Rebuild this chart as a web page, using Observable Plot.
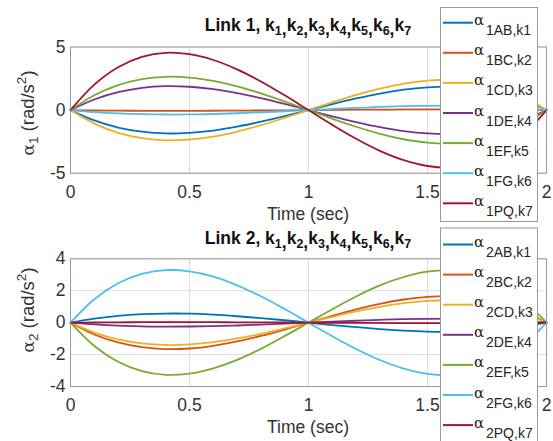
<!DOCTYPE html>
<html>
<head>
<meta charset="utf-8">
<script src="https://cdn.jsdelivr.net/npm/d3@7"></script>
<script src="https://cdn.jsdelivr.net/npm/@observablehq/plot@0.6"></script>
<style>
  html, body { margin: 0; padding: 0; background: white; }
  #wrap { position: relative; width: 553px; height: 441px; overflow: hidden; background: white; }
  #wrap > svg { position: absolute; left: 0; }
</style>
</head>
<body>
<div id="wrap"></div>
<script>
// ---- data ----
const times = [0,0.1,0.2,0.3,0.4,0.5,0.6,0.7,0.8,0.9,1.0,1.1,1.2,1.3,1.4,1.5,1.6,1.7,1.8,1.9,2.0];
const xTicks = [0, 0.5, 1, 1.5, 2];
const yTicks1 = [-5, 0, 5];
const yTicks2 = [-4, -2, 0, 2, 4];
const colors = ["#0072BD","#D95319","#EDB120","#7E2F8E","#77AC30","#4DBEEE","#A2142F"];
const names1 = ["1AB,k1","1BC,k2","1CD,k3","1DE,k4","1EF,k5","1FG,k6","1PQ,k7"];
const names2 = ["2AB,k1","2BC,k2","2CD,k3","2DE,k4","2EF,k5","2FG,k6","2PQ,k7"];

// Link 1 accelerations (rad/s^2)
const l1k1 = [0,-0.82,-1.38,-1.71,-1.85,-1.80,-1.62,-1.31,-0.92,-0.48,0,0.48,0.92,1.31,1.62,1.80,1.85,1.71,1.38,0.82,0];
const l1k2 = [0,-0.03,-0.04,-0.06,-0.06,-0.06,-0.05,-0.04,-0.03,-0.02,0,0.02,0.03,0.04,0.05,0.06,0.06,0.06,0.04,0.03,0];
const l1k3 = [0,-1.07,-1.80,-2.22,-2.40,-2.34,-2.10,-1.70,-1.20,-0.62,0,0.62,1.20,1.70,2.10,2.34,2.40,2.22,1.80,1.07,0];
const l1k4 = [0,0.84,1.42,1.76,1.90,1.85,1.66,1.35,0.95,0.49,0,-0.49,-0.95,-1.35,-1.66,-1.85,-1.90,-1.76,-1.42,-0.84,0];
const l1k5 = [0,1.18,1.98,2.46,2.64,2.58,2.31,1.88,1.32,0.68,0,-0.68,-1.32,-1.88,-2.31,-2.58,-2.64,-2.46,-1.98,-1.18,0];
const l1k6 = [0,-0.16,-0.26,-0.32,-0.35,-0.34,-0.31,-0.25,-0.17,-0.09,0,0.09,0.17,0.25,0.31,0.34,0.35,0.32,0.26,0.16,0];
const l1k7 = [0,2.02,3.40,4.22,4.54,4.43,3.97,3.23,2.27,1.17,0,-1.17,-2.27,-3.23,-3.97,-4.43,-4.54,-4.22,-3.40,-2.02,0];

// Link 2 accelerations (rad/s^2)
const l2k1 = [0,0.25,0.43,0.53,0.57,0.56,0.50,0.40,0.28,0.15,0,-0.15,-0.28,-0.40,-0.50,-0.56,-0.57,-0.53,-0.43,-0.25,0];
const l2k2 = [0,-0.74,-1.24,-1.54,-1.66,-1.62,-1.45,-1.18,-0.83,-0.43,0,0.43,0.83,1.18,1.45,1.62,1.66,1.54,1.24,0.74,0];
const l2k3 = [0,-0.62,-1.05,-1.30,-1.40,-1.36,-1.22,-0.99,-0.70,-0.36,0,0.36,0.70,0.99,1.22,1.36,1.40,1.30,1.05,0.62,0];
const l2k4 = [0,-0.11,-0.19,-0.23,-0.25,-0.24,-0.22,-0.18,-0.12,-0.06,0,0.06,0.12,0.18,0.22,0.24,0.25,0.23,0.19,0.11,0];
const l2k5 = [0,-1.46,-2.45,-3.04,-3.27,-3.19,-2.86,-2.33,-1.64,-0.84,0,0.84,1.64,2.33,2.86,3.19,3.27,3.04,2.45,1.46,0];
const l2k6 = [0,1.47,2.47,3.06,3.29,3.21,2.88,2.34,1.65,0.85,0,-0.85,-1.65,-2.34,-2.88,-3.21,-3.29,-3.06,-2.47,-1.47,0];
const l2k7 = [0,0.01,0.02,0.03,0.03,0.03,0.03,0.02,0.02,0.01,0,-0.01,-0.02,-0.02,-0.03,-0.03,-0.03,-0.03,-0.02,-0.01,0];

const link1 = [l1k1,l1k2,l1k3,l1k4,l1k5,l1k6,l1k7];
const link2 = [l2k1,l2k2,l2k3,l2k4,l2k5,l2k6,l2k7];

const FONT = "'Liberation Sans', Arial, sans-serif";

function makePlot(series, yDomain, yTicks, height, mt, mb) {
  return Plot.plot({
    width: 553, height,
    marginLeft: 70, marginRight: 7, marginTop: mt, marginBottom: mb,
    style: { fontFamily: FONT, fontSize: "17.5px", color: "#333", background: "white" },
    x: { domain: [0, 2] },
    y: { domain: yDomain },
    marks: [
      Plot.gridX(xTicks, { stroke: "#dcdcdc", strokeOpacity: 1 }),
      Plot.gridY(yTicks, { stroke: "#dcdcdc", strokeOpacity: 1 }),
      Plot.axisX({ ticks: xTicks, tickSize: 0, tickPadding: 12, label: null, tickFormat: d => String(d) }),
      Plot.axisY({ ticks: yTicks, tickSize: 0, tickPadding: 5, label: null, tickFormat: d => String(d) }),
      ...series.map((vals, i) => Plot.line(times, {
        x: d => d, y: (d, j) => vals[j], stroke: colors[i], strokeWidth: 1.8, curve: "catmull-rom"
      })),
      Plot.frame({ stroke: "#999", strokeWidth: 1 })
    ]
  });
}

const wrap = document.getElementById("wrap");
const p1 = makePlot(link1, [-5, 5], yTicks1, 220, 46.5, 47.3);
p1.style.top = "0px";
wrap.appendChild(p1);
const p2 = makePlot(link2, [-4, 4], yTicks2, 221, 38.3, 55);
p2.style.top = "220px";
wrap.appendChild(p2);

// ---- overlay: titles, axis labels, legends ----
const ov = d3.select(wrap).append("svg")
  .attr("width", 553).attr("height", 441)
  .style("top", "0px").style("position", "absolute")
  .attr("font-family", FONT);

function title(y, n) {
  const t = ov.append("text").attr("x", 308).attr("y", y).attr("text-anchor", "middle")
    .attr("font-size", 17.5).attr("font-weight", "bold").attr("fill", "#111");
  t.append("tspan").text(`Link ${n}, `);
  for (let i = 1; i <= 7; i++) {
    t.append("tspan").attr("dy", i === 1 ? 0 : -4).text("k");
    t.append("tspan").attr("dy", 4).attr("font-size", 12.5).text(String(i));
    if (i < 7) t.append("tspan").text(",");
  }
}
title(31, 1);
title(244, 2);

function xlabel(y) {
  ov.append("text").attr("x", 308).attr("y", y).attr("text-anchor", "middle")
    .attr("font-size", 17.5).attr("fill", "#333").text("Time (sec)");
}
xlabel(220);
xlabel(433);

function ylabel(cy, n) {
  const t = ov.append("text").attr("transform", `translate(34,${cy}) rotate(-90)`)
    .attr("text-anchor", "middle").attr("font-size", 18.5).attr("fill", "#333");
  t.append("tspan").attr("font-family", "'DejaVu Serif', serif").attr("font-size", 17).text("α");
  t.append("tspan").attr("dy", 4).attr("font-size", 13.5).text(String(n));
  t.append("tspan").attr("dy", -4).text(" (rad/s");
  t.append("tspan").attr("dy", -8).attr("font-size", 13.5).text("2");
  t.append("tspan").attr("dy", 8).text(")");
}
ylabel(113, 1);
ylabel(310, 2);

function legend(top, h, names, rowY0, rowDy) {
  const g = ov.append("g");
  g.append("rect").attr("x", 440.5).attr("y", top + 0.5).attr("width", 97).attr("height", h)
    .attr("fill", "white").attr("stroke", "#9a9a9a").attr("stroke-width", 1);
  names.forEach((nm, i) => {
    const y = rowY0 + i * rowDy;
    g.append("line").attr("x1", 443).attr("x2", 473).attr("y1", y).attr("y2", y)
      .attr("stroke", colors[i]).attr("stroke-width", 2);
    g.append("text").attr("x", 474).attr("y", y + 2.5).attr("font-family", "'DejaVu Serif', serif")
      .attr("font-size", 15).attr("fill", "#262626").text("α");
    g.append("text").attr("x", 486).attr("y", y + 12.5).attr("font-size", 14)
      .attr("fill", "#262626").text(nm);
  });
}
legend(7, 214, names1, 22.7, 30.1);
legend(227.5, 230, names2, 244.5, 30.1);
</script>
</body>
</html>
